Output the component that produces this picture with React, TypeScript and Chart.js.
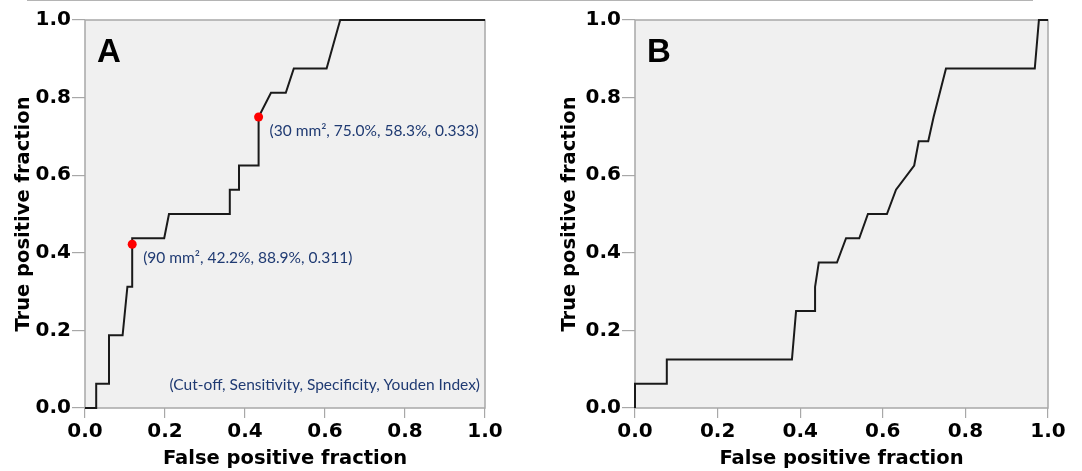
import React, { useEffect, useRef } from "react";
import { Chart, registerables } from "chart.js";

Chart.register(...registerables);

// ---- data ----
const TICK_VALUES = [0, 0.2, 0.4, 0.6, 0.8, 1.0];
const X_TITLE = "False positive fraction";
const Y_TITLE = "True positive fraction";

const ROC_A_FPF = [0, 0.028, 0.028, 0.06, 0.06, 0.094, 0.106, 0.118, 0.118, 0.198, 0.21, 0.362, 0.362, 0.385, 0.385, 0.434, 0.434, 0.465, 0.502, 0.522, 0.604, 0.638, 1.0];
const ROC_A_TPF = [0, 0, 0.0625, 0.0625, 0.1875, 0.1875, 0.3125, 0.3125, 0.4375, 0.4375, 0.5, 0.5, 0.5625, 0.5625, 0.625, 0.625, 0.75, 0.8125, 0.8125, 0.875, 0.875, 1.0, 1.0];

const ROC_B_FPF = [0, 0, 0.077, 0.077, 0.38, 0.39, 0.436, 0.436, 0.445, 0.489, 0.511, 0.543, 0.564, 0.61, 0.632, 0.676, 0.687, 0.71, 0.723, 0.753, 0.968, 0.978, 1.0];
const ROC_B_TPF = [0, 0.0625, 0.0625, 0.125, 0.125, 0.25, 0.25, 0.3125, 0.375, 0.375, 0.4375, 0.4375, 0.5, 0.5, 0.5625, 0.625, 0.6875, 0.6875, 0.75, 0.875, 0.875, 1.0, 1.0];

const CUTOFF_A_FPF = [0.118, 0.434];
const CUTOFF_A_TPF = [0.422, 0.75];
const CUTOFF_A_LABELS = ["(90 mm², 42.2%, 88.9%, 0.311)", "(30 mm², 75.0%, 58.3%, 0.333)"];
const LEGEND_A = "(Cut-off, Sensitivity, Specificity, Youden Index)";

// ---- styles ----
const TICK_FONT = { family: '"DejaVu Sans", Verdana, sans-serif', weight: "bold" as const, size: 20 };
const TITLE_FONT = { family: '"DejaVu Sans", Verdana, sans-serif', weight: "bold" as const, size: 19.5 };
const GREY = "#a8a8a8";
const NAVY = "#1f3a72";
const NOTE_FONT = '15.5px Lato, "Open Sans", sans-serif';

type PanelOpts = {
  letter: string;
  fpf: number[];
  tpf: number[];
  dotsX: number[];
  dotsY: number[];
  dotLabels: string[];
  legend: string | null;
  yAxisWidth: number;
  padRight: number;
  yTitlePad: number;
};

function makeConfig(o: PanelOpts): any {
  const panelPlugin = {
    id: "panelDecor",
    beforeDraw(chart: any) {
      const { ctx, chartArea } = chart;
      const { left, top, right, bottom } = chartArea;
      ctx.save();
      ctx.fillStyle = "#f0f0f0";
      ctx.fillRect(left, top, right - left, bottom - top);
      ctx.restore();
    },
    beforeDatasetsDraw(chart: any) {
      const { ctx, chartArea } = chart;
      const { left, top, right, bottom } = chartArea;
      ctx.save();
      ctx.strokeStyle = GREY;
      ctx.lineWidth = 1.5;
      ctx.strokeRect(left, top, right - left, bottom - top);
      ctx.fillStyle = "#000";
      ctx.font = 'bold 33px "Liberation Sans", Arial, sans-serif';
      ctx.textAlign = "left";
      ctx.textBaseline = "alphabetic";
      ctx.fillText(o.letter, left + 12, top + 42);
      ctx.restore();
    },
    afterDatasetsDraw(chart: any) {
      const { ctx, chartArea, scales } = chart;
      ctx.save();
      ctx.fillStyle = NAVY;
      ctx.font = NOTE_FONT;
      ctx.textAlign = "left";
      ctx.textBaseline = "middle";
      o.dotLabels.forEach((t, i) => {
        const px = scales.x.getPixelForValue(o.dotsX[i]) + 11;
        const py = scales.y.getPixelForValue(o.dotsY[i]) + 14;
        ctx.fillText(t, px, py);
      });
      if (o.legend) {
        ctx.textAlign = "right";
        ctx.fillText(o.legend, chartArea.right - 5, chartArea.bottom - 23);
      }
      ctx.restore();
    },
  };

  const setTicks = (s: any) => {
    s.ticks = TICK_VALUES.map((v) => ({ value: v }));
  };

  return {
    type: "line",
    data: {
      datasets: [
        {
          type: "scatter",
          data: o.dotsX.map((x, i) => ({ x, y: o.dotsY[i] })),
          pointRadius: 4.5,
          pointBackgroundColor: "#ff0000",
          pointBorderColor: "#ff0000",
          pointBorderWidth: 0,
          showLine: false,
          order: 0,
          clip: 8,
        },
        {
          data: o.fpf.map((x, i) => ({ x, y: o.tpf[i] })),
          borderColor: "#1a1a1a",
          borderWidth: 2,
          pointRadius: 0,
          tension: 0,
          fill: false,
          order: 1,
          clip: 6,
        },
      ],
    },
    options: {
      animation: false,
      responsive: false,
      maintainAspectRatio: false,
      layout: { padding: { left: 0, right: o.padRight, top: 20, bottom: 0 } },
      plugins: { legend: { display: false }, tooltip: { enabled: false } },
      scales: {
        x: {
          type: "linear",
          min: 0,
          max: 1,
          afterBuildTicks: setTicks,
          afterFit: (s: any) => {
            s.height = 63;
          },
          grid: { drawOnChartArea: false, drawTicks: true, tickLength: 10, color: GREY, lineWidth: 1.2 },
          border: { display: false },
          ticks: {
            color: "#000",
            font: TICK_FONT,
            padding: 2,
            maxRotation: 0,
            callback: (v: any) => Number(v).toFixed(1),
          },
          title: { display: true, text: X_TITLE, color: "#000", font: TITLE_FONT, padding: { top: 0, bottom: 0 } },
        },
        y: {
          type: "linear",
          min: 0,
          max: 1,
          afterBuildTicks: setTicks,
          afterFit: (s: any) => {
            s.width = o.yAxisWidth;
          },
          grid: { drawOnChartArea: false, drawTicks: true, tickLength: 13, color: GREY, lineWidth: 1.2 },
          border: { display: false },
          ticks: {
            color: "#000",
            font: TICK_FONT,
            padding: 1,
            callback: (v: any) => Number(v).toFixed(1),
          },
          title: { display: true, text: Y_TITLE, color: "#000", font: TITLE_FONT, padding: { top: o.yTitlePad, bottom: 0 } },
        },
      },
    },
    plugins: [panelPlugin],
  };
}

export default function App() {
  const refA = useRef<HTMLCanvasElement | null>(null);
  const refB = useRef<HTMLCanvasElement | null>(null);

  useEffect(() => {
    const a = new Chart(
      refA.current as HTMLCanvasElement,
      makeConfig({
        letter: "A",
        fpf: ROC_A_FPF,
        tpf: ROC_A_TPF,
        dotsX: CUTOFF_A_FPF,
        dotsY: CUTOFF_A_TPF,
        dotLabels: CUTOFF_A_LABELS,
        legend: LEGEND_A,
        yAxisWidth: 85,
        padRight: 55,
        yTitlePad: 12,
      })
    );
    const b = new Chart(
      refB.current as HTMLCanvasElement,
      makeConfig({
        letter: "B",
        fpf: ROC_B_FPF,
        tpf: ROC_B_TPF,
        dotsX: [],
        dotsY: [],
        dotLabels: [],
        legend: null,
        yAxisWidth: 95,
        padRight: 34,
        yTitlePad: 18,
      })
    );
    return () => {
      a.destroy();
      b.destroy();
    };
  }, []);

  return (
    <div style={{ position: "absolute", left: 0, top: 0, width: 1082, height: 471, background: "#fff", overflow: "hidden" }}>
      <div style={{ position: "absolute", left: 27, top: 0, width: 1006, height: 1, background: "#b4b4b4" }} />
      <canvas ref={refA} width={540} height={471} style={{ position: "absolute", left: 0, top: 0 }} />
      <canvas ref={refB} width={542} height={471} style={{ position: "absolute", left: 540, top: 0 }} />
    </div>
  );
}
